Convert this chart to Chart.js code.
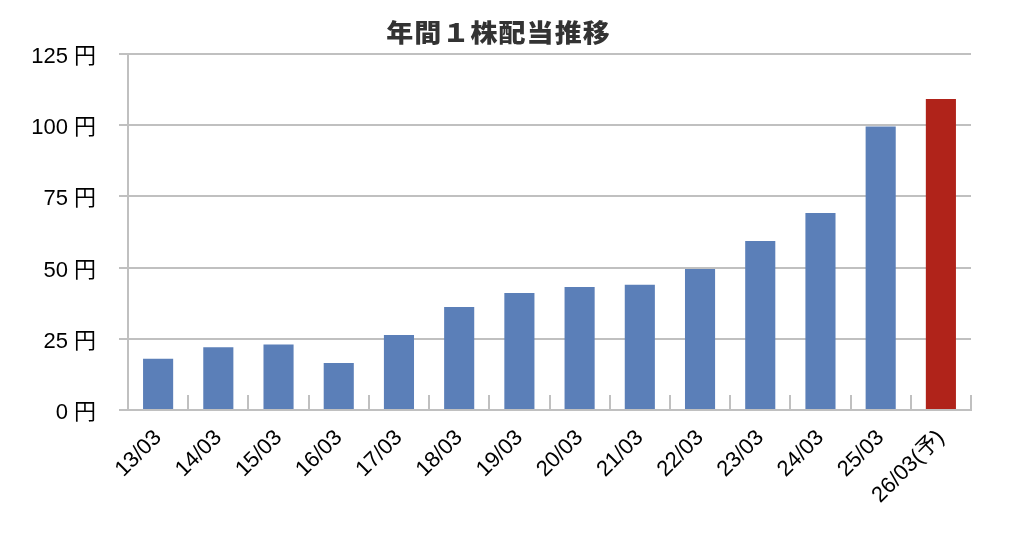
<!DOCTYPE html>
<html><head><meta charset="utf-8">
<script src="https://cdn.jsdelivr.net/npm/chart.js@4"></script>
<style>html,body{margin:0;padding:0;background:#fff}</style>
</head><body>
<canvas id="c" width="1018" height="536"></canvas>
<script>
const chartTitle = '年間１株配当推移';
const categories = ['13/03','14/03','15/03','16/03','17/03','18/03','19/03','20/03','21/03','22/03','23/03','24/03','25/03','26/03(予)'];
const dividends = [18, 22, 23, 16.5, 26.3, 36.2, 41.1, 43.2, 44, 49.5, 59.3, 69.2, 99.5, 109.2];
const isForecast = [false,false,false,false,false,false,false,false,false,false,false,false,false,true];
const yTickValues = [0, 25, 50, 75, 100, 125];
const unit = '円';

const BLUE = '#5b7fb8';
const RED = '#b0231a';
const GRID = '#c0c0c0';
const FONT = '"Liberation Sans", "Noto Sans CJK JP", sans-serif';
const TITLE_FONT = '"Noto Sans CJK JP", sans-serif';

const titlePlugin = {
  id: 'spacedTitle',
  afterDraw(chart) {
    const ctx = chart.ctx;
    const sx = 1.08;
    ctx.save();
    ctx.font = '900 25px ' + TITLE_FONT;
    ctx.fillStyle = '#333333';
    ctx.textAlign = 'center';
    ctx.textBaseline = 'middle';
    let sp = 0;
    if ('letterSpacing' in ctx) { ctx.letterSpacing = '1px'; sp = 1; }
    ctx.translate(498 + sp * sx / 2, 32);
    ctx.scale(sx, 1);
    ctx.fillText(chartTitle, 0, 0);
    ctx.restore();
  }
};

const boundaryTicks = {
  id: 'boundaryTicks',
  afterDatasetsDraw(chart) {
    const xs = chart.scales.x;
    const ctx = chart.ctx;
    const bottom = chart.chartArea.bottom;
    ctx.save();
    ctx.strokeStyle = GRID;
    ctx.lineWidth = 2;
    ctx.beginPath();
    for (let i = 0; i < categories.length; i++) {
      const x = Math.round(xs.getPixelForValue(i + 0.5));
      ctx.moveTo(x, bottom);
      ctx.lineTo(x, bottom - 15);
    }
    ctx.stroke();
    ctx.restore();
  }
};

new Chart(document.getElementById('c'), {
  type: 'bar',
  data: {
    labels: categories,
    datasets: [{
      data: dividends,
      backgroundColor: isForecast.map(f => f ? RED : BLUE),
      borderWidth: 0,
      barPercentage: 0.5,
      categoryPercentage: 1.0
    }]
  },
  options: {
    responsive: false,
    animation: false,
    devicePixelRatio: 1,
    layout: { padding: { top: 54, right: 47, left: 0, bottom: 0 } },
    plugins: { legend: { display: false }, title: { display: false }, tooltip: { enabled: false } },
    scales: {
      x: {
        grid: { display: false },
        border: { display: true, color: GRID, width: 2 },
        ticks: { color: '#000', font: { family: FONT, size: 22 }, minRotation: 45, maxRotation: 45, autoSkip: false, padding: 7 },
        afterFit(s) { s.height = 126; }
      },
      y: {
        min: 0, max: 125,
        afterBuildTicks(s) { s.ticks = yTickValues.map(v => ({ value: v })); },
        grid: { color: GRID, lineWidth: 2, tickLength: 9, drawTicks: true },
        border: { display: true, color: GRID, width: 2 },
        ticks: { color: '#000', font: { family: FONT, size: 22 }, padding: 23, labelOffset: 3, callback: v => v + ' ' + unit },
        afterFit(s) { s.width = 128; }
      }
    }
  },
  plugins: [titlePlugin, boundaryTicks]
});
</script>
</body></html>
